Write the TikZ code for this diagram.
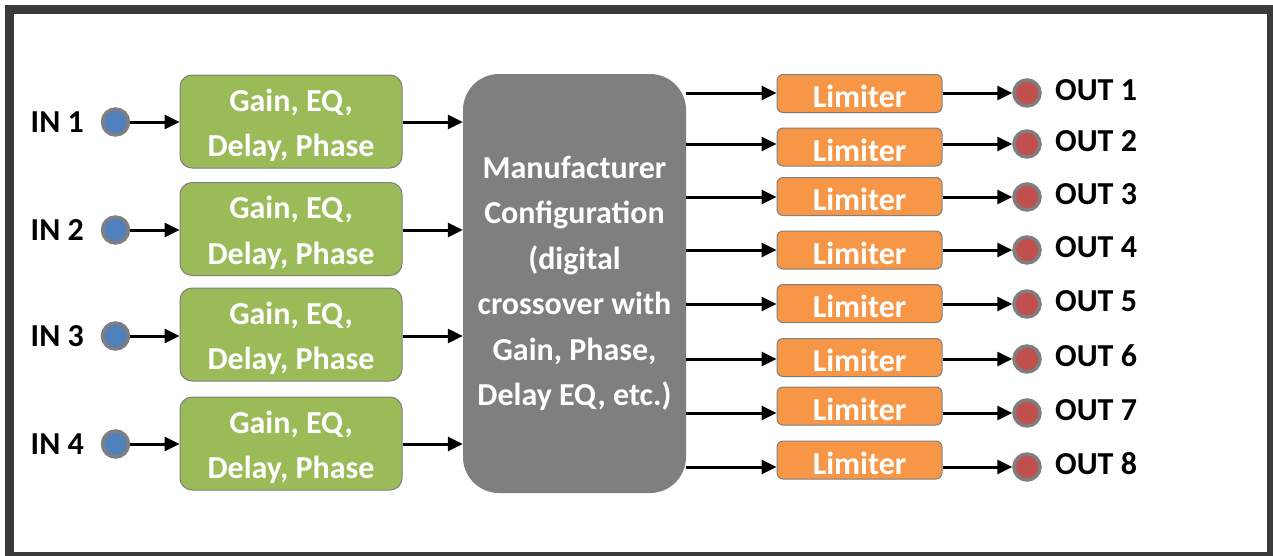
\documentclass[tikz,border=0pt]{standalone}
\usepackage{fontspec}
\setmainfont{Carlito}
\usetikzlibrary{arrows.meta}
\definecolor{frameC}{HTML}{3A3A3A}
\definecolor{edgeC}{HTML}{7F7F7F}
\definecolor{greenC}{HTML}{9BBB59}
\definecolor{grayC}{HTML}{7F7F7F}
\definecolor{orangeC}{HTML}{F79646}
\definecolor{blueC}{HTML}{4F81BD}
\definecolor{redC}{HTML}{C0504D}
\newcommand{\topstrut}{\rule{0pt}{30pt}}
\tikzset{
  txt/.style={font=\fontsize{32}{45.5}\selectfont\bfseries},
  procbox/.style={txt, draw=edgeC, line width=1pt, fill=greenC, text=white, rounded corners=12pt,
    minimum width=222pt, minimum height=93pt, align=center, inner sep=0pt},
  limbox/.style={txt, draw=edgeC, line width=1pt, fill=orangeC, text=white, rounded corners=6pt,
    minimum width=165pt, minimum height=38pt, inner sep=0pt, text height=28pt, text depth=0pt},
  mainbox/.style={txt, fill=grayC, text=white, rounded corners=36pt,
    minimum width=223pt, minimum height=419pt, align=center, inner sep=0pt},
  inport/.style={circle, draw=edgeC, line width=3.5pt, fill=blueC, minimum size=26pt, inner sep=0pt},
  outport/.style={circle, draw=edgeC, line width=3.5pt, fill=redC, minimum size=26pt, inner sep=0pt},
  lbl/.style={txt, text=black, inner sep=0pt},
  arr/.style={line width=3pt, -{Triangle[length=15pt,width=14pt]}},
}
\begin{document}
\begin{tikzpicture}[x=1pt,y=-1pt]
\useasboundingbox (0,0) rectangle (1273,555);
\clip (0,0) rectangle (1273,555);
\fill[white] (0,0) rectangle (1273,555);
\draw[frameC, line width=9pt] (9.5,9.5) rectangle (1271.5,556.5);

% main box
\node[mainbox] (main) at (574.5,283.5) {Manufacturer\\Configuration\\(digital\\crossover with\\Gain, Phase,\\Delay EQ, etc.)};

% inputs
\foreach \i/\y/\by in {1/122/121.5, 2/230/229, 3/336/334.5, 4/444/443.5} {
  \node[lbl, anchor=east] (inl\i) at (84,\y) {IN \i};
  \node[inport] (in\i) at (115.5,\y) {};
  \node[procbox] (p\i) at (291,\by) {\topstrut Gain, EQ,\\Delay, Phase};
  \draw[arr] (in\i) -- (p\i.west |- in\i);
  \draw[arr] (p\i.east |- in\i) -- (main.west |- in\i);
}

% outputs
\foreach \i/\ly/\oy in {1/93.5/93, 2/147/144, 3/196.5/197, 4/250/250, 5/303.5/304, 6/357.5/359, 7/406/413, 8/460/467} {
  \node[limbox] (l\i) at (859.5,\ly) {Limiter};
  \node[outport] (o\i) at (1027,\oy) {};
  \node[lbl, anchor=west] (ol\i) at (1055,\oy-3) {OUT \i};
  \draw[arr] (main.east |- o\i) -- (l\i.west |- o\i);
  \draw[arr] (l\i.east |- o\i) -- (o\i);
}
\end{tikzpicture}
\end{document}
